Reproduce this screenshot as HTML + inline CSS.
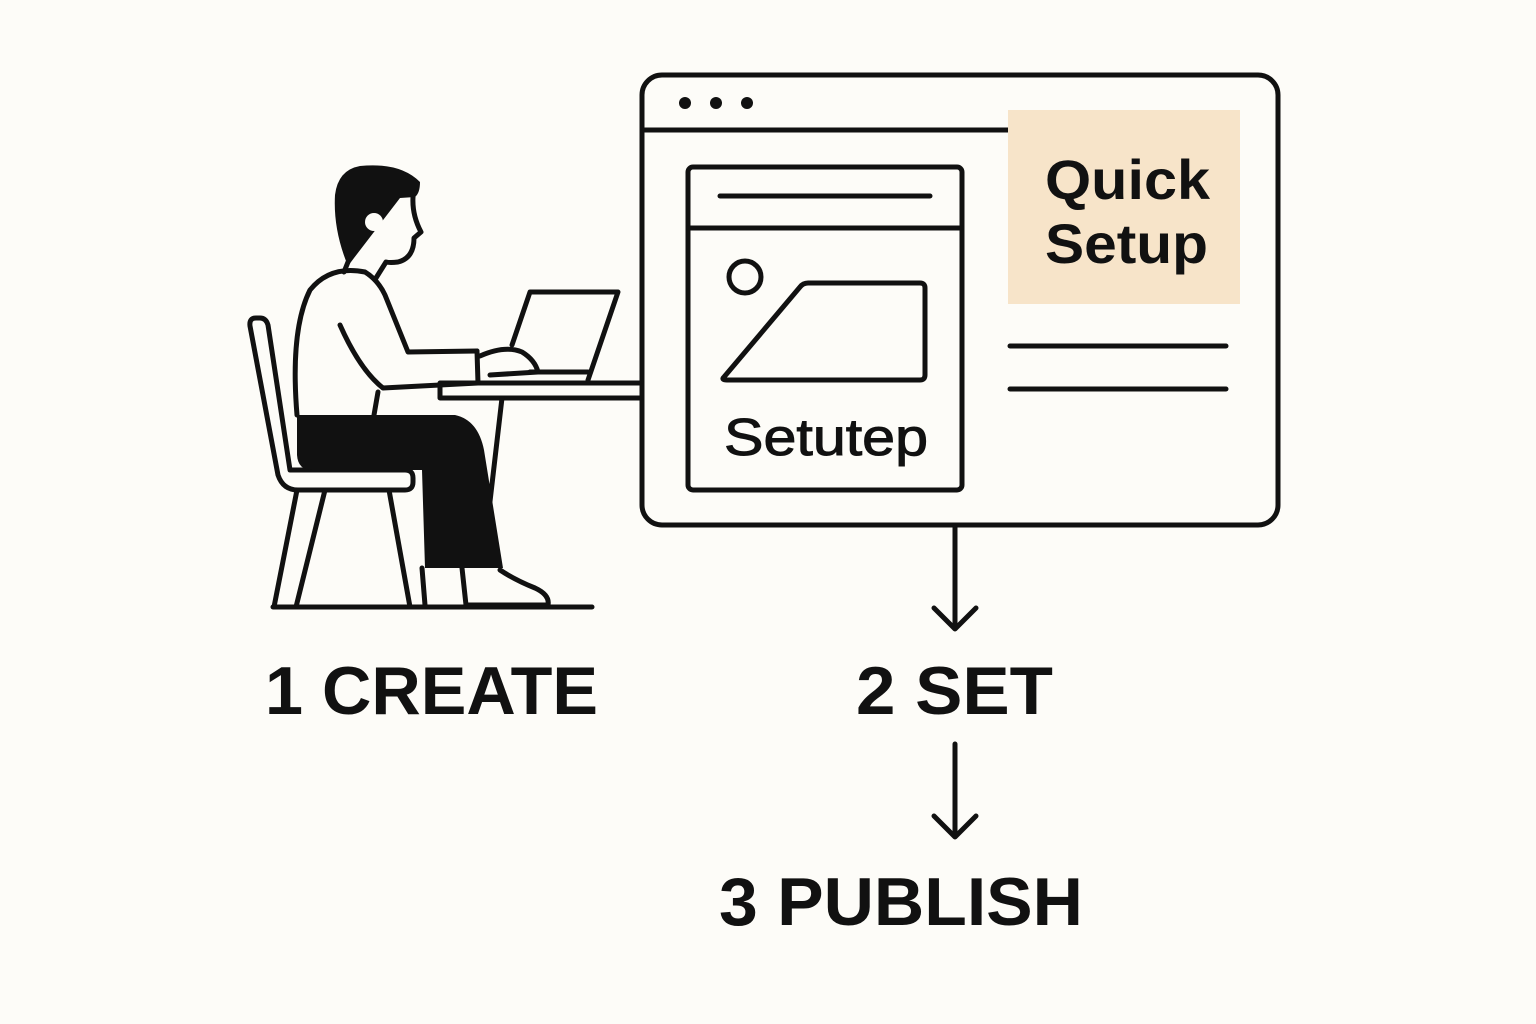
<!DOCTYPE html>
<html><head><meta charset="utf-8"><style>
html,body{margin:0;padding:0;background:#fdfcf8;}
svg{display:block}
text{font-family:"Liberation Sans",sans-serif;}
</style></head><body>
<svg width="1536" height="1024" viewBox="0 0 1536 1024" xmlns="http://www.w3.org/2000/svg">
<rect width="1536" height="1024" fill="#fdfcf8"/>
<g fill="none" stroke="#111" stroke-width="5" stroke-linecap="round" stroke-linejoin="round">
<!-- browser window -->
<rect x="642" y="75" width="636" height="450" rx="20"/>
<line x1="644" y1="130" x2="1008" y2="130"/>
<rect x="1008" y="110" width="232" height="194" fill="#f7e4c9" stroke="none"/>
<rect x="688" y="167" width="274" height="323" rx="5"/>
<line x1="720" y1="196" x2="930" y2="196"/>
<line x1="688" y1="228" x2="962" y2="228"/>
<circle cx="745" cy="277" r="16"/>
<path d="M724 377 L800 287 Q803 283 808 283 L920 283 Q925 283 925 288 L925 375 Q925 380 920 380 L727 380 Q721 380 724 377 Z"/>
<line x1="1010" y1="346" x2="1226" y2="346"/>
<line x1="1010" y1="389" x2="1226" y2="389"/>
<!-- arrows -->
<line x1="955" y1="527" x2="955" y2="628"/>
<polyline points="934,608 955,629 976,608"/>
<line x1="955" y1="744" x2="955" y2="836"/>
<polyline points="934,816 955,837 976,816"/>
<!-- floor -->
<line x1="273" y1="607" x2="592" y2="607"/>
<!-- chair -->
<path d="M290 470 L268 325 Q266 318 260 318 L256 318 Q249 318 250 326 L278 475 Q283 490 298 490 L405 490 Q413 490 413 482 L413 478 Q413 470 405 470 Z"/>
<line x1="297" y1="490" x2="274" y2="607"/>
<line x1="325" y1="490" x2="296" y2="607"/>
<line x1="389" y1="490" x2="410" y2="607"/>
<!-- desk -->
<rect x="440" y="383" width="202" height="15"/>
<line x1="502" y1="398" x2="489" y2="510"/>
<!-- laptop -->
<path d="M512 345 L530 292 L618 292 L588 380"/>
<line x1="530" y1="372" x2="588" y2="372"/>
<!-- torso -->
<path d="M297 415 Q290 330 310 290 Q330 265 365 272 Q378 280 385 295 L408 352 L477 351"/>
<path d="M340 325 Q360 370 383 388 L478 383"/>
<line x1="477" y1="351" x2="478" y2="383"/>
<path d="M480 356 Q505 345 522 352 Q535 360 538 372 L490 375"/>
<line x1="378" y1="392" x2="374" y2="415"/>
<!-- face -->
<path d="M413 197 Q412 215 421 232 L414 238 Q414 258 398 262 Q390 263 386 262 L376 278"/>
<line x1="348" y1="262" x2="344" y2="272"/>
</g>
<!-- hair -->
<path d="M348 266 Q333 230 335 195 Q338 170 360 166 Q400 162 420 182 Q420 193 415 197 L400 198 L354 258 Z" fill="#111"/>
<circle cx="374" cy="222" r="9" fill="#fdfcf8"/>
<!-- pants -->
<path d="M297 415 L455 415 Q478 420 484 450 L503 568 L425 568 L422 470 L312 470 Q298 470 297 455 Z" fill="#111"/>
<g fill="none" stroke="#111" stroke-width="5" stroke-linecap="round" stroke-linejoin="round">
<path d="M462 568 L466 605 L548 605 Q550 595 535 588 Q515 580 500 570"/>
<path d="M422 568 L425 605"/>
</g>
<!-- dots -->
<circle cx="685" cy="103" r="6" fill="#111"/>
<circle cx="716" cy="103" r="6" fill="#111"/>
<circle cx="747" cy="103" r="6" fill="#111"/>
<!-- text -->
<text x="1045" y="199" font-size="56" font-weight="bold" fill="#111" textLength="165" lengthAdjust="spacingAndGlyphs">Quick</text>
<text x="1045" y="263" font-size="56" font-weight="bold" fill="#111" textLength="163" lengthAdjust="spacingAndGlyphs">Setup</text>
<text x="724" y="455" font-size="52" fill="#111" stroke="#111" stroke-width="1" textLength="204" lengthAdjust="spacingAndGlyphs">Setutep</text>
<text x="265" y="714" font-size="68" font-weight="bold" fill="#111" textLength="333" lengthAdjust="spacingAndGlyphs">1  CREATE</text>
<text x="856" y="714" font-size="68" font-weight="bold" fill="#111" textLength="197" lengthAdjust="spacingAndGlyphs">2  SET</text>
<text x="719" y="925" font-size="68" font-weight="bold" fill="#111" textLength="364" lengthAdjust="spacingAndGlyphs">3  PUBLISH</text>
</svg>
</body></html>
